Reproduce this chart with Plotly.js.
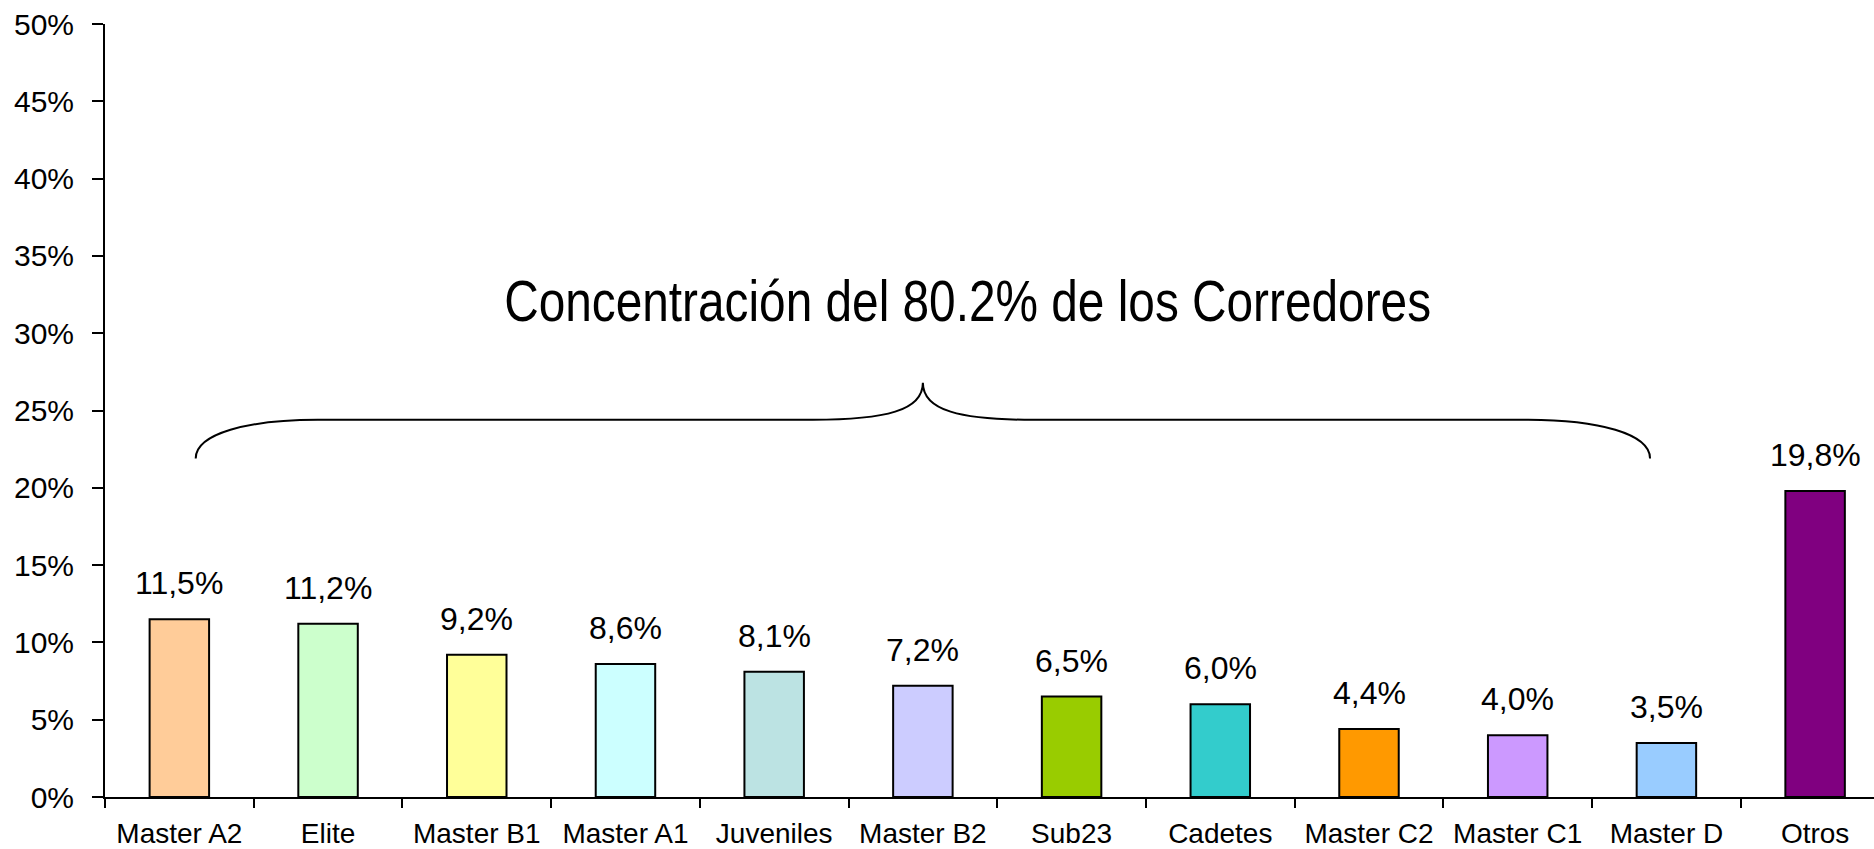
<!DOCTYPE html>
<html>
<head>
<meta charset="utf-8">
<script src="https://cdn.plot.ly/plotly-3.0.1.min.js"></script>
<style>html,body{margin:0;padding:0;background:#fff;}#chart{width:1874px;height:849px;}</style>
</head>
<body>
<div id="chart"></div>
<script>
const categories = ["Master A2","Elite","Master B1","Master A1","Juveniles","Master B2","Sub23","Cadetes","Master C2","Master C1","Master D","Otros"];
const values = [11.5, 11.2, 9.2, 8.6, 8.1, 7.2, 6.5, 6.0, 4.4, 4.0, 3.5, 19.8];
const barColors = ["#FFCC99","#CCFFCC","#FFFF99","#CCFFFF","#BCE3E3","#CCCCFF","#99CC00","#33CCCC","#FF9900","#CC99FF","#99CCFF","#800080"];
const yTickVals = [0,5,10,15,20,25,30,35,40,45,50];
const yTickText = ["0%","5%","10%","15%","20%","25%","30%","35%","40%","45%","50%"];
const braceText = "Concentración del 80.2% de los Corredores";

const FONT = "Liberation Sans, Arial, sans-serif";

const trace = {
  type: "bar",
  x: categories,
  y: values,
  width: 0.4,
  marker: {color: barColors, line: {color: "#000", width: 2}},
  hoverinfo: "none"
};

const labelAnns = categories.map((c, i) => ({
  x: c, y: values[i], xref: "x", yref: "y",
  text: values[i].toFixed(1).replace(".", ",") + "%",
  showarrow: false, yanchor: "bottom", yshift: 16,
  font: {family: FONT, size: 32, color: "#000"}
}));

// Brace (curly bracket) spanning first 11 categories
const L = 0.11, R = 9.89, M = 5.0, yEnd = 21.9, yMid = 24.4, yTip = 26.8;
const bracePath =
  `M ${L},${yEnd} C ${L},${yMid-0.9} ${L+0.35},${yMid} ${L+0.82},${yMid} ` +
  `L ${M-0.74},${yMid} C ${M-0.25},${yMid} ${M},${yMid+0.6} ${M},${yTip} ` +
  `C ${M},${yMid+0.6} ${M+0.25},${yMid} ${M+0.74},${yMid} ` +
  `L ${R-0.82},${yMid} C ${R-0.35},${yMid} ${R},${yMid-0.9} ${R},${yEnd}`;

const layout = {
  width: 1874, height: 849,
  margin: {l: 105, r: 0, t: 24, b: 52, pad: 0},
  paper_bgcolor: "#fff", plot_bgcolor: "#fff",
  showlegend: false,
  separators: ",.",
  font: {family: FONT, color: "#000"},
  xaxis: {
    type: "category",
    range: [-0.5, 11.396],
    showline: true, linecolor: "#000", linewidth: 2,
    ticks: "outside", tickson: "boundaries", ticklen: 9, tickwidth: 2, tickcolor: "#000",
    tickfont: {family: FONT, size: 28, color: "#000"},
    ticklabelstandoff: 10,
    showgrid: false, zeroline: false, fixedrange: true
  },
  yaxis: {
    range: [0, 50],
    tickvals: yTickVals, ticktext: yTickText,
    showline: true, linecolor: "#000", linewidth: 2,
    ticks: "outside", ticklen: 11, tickwidth: 2, tickcolor: "#000",
    tickfont: {family: FONT, size: 30, color: "#000"},
    ticklabelstandoff: 12,
    showgrid: false, zeroline: false, fixedrange: true
  },
  shapes: [{
    type: "path", xref: "x", yref: "y", path: bracePath,
    line: {color: "#000", width: 2}
  }],
  annotations: labelAnns.concat([{
    x: 5.30, y: 32.1, xref: "x", yref: "y",
    text: braceText, showarrow: false,
    font: {family: FONT, size: 58, color: "#000"}
  }])
};

Plotly.newPlot("chart", [trace], layout, {displayModeBar: false, staticPlot: true}).then(gd => {
  // Emulate the condensed (Arial Narrow-like) face of the reference for the brace caption
  const texts = gd.querySelectorAll("text.annotation-text");
  texts.forEach(t => {
    if (t.textContent === braceText) {
      const bb = t.getBBox();
      const cx = bb.x + bb.width / 2;
      const s = 0.824;
      const prev = t.getAttribute("transform") || "";
      t.setAttribute("transform", prev + ` translate(${cx},0) scale(${s},1) translate(${-cx},0)`);
    }
  });
});
</script>
</body>
</html>
